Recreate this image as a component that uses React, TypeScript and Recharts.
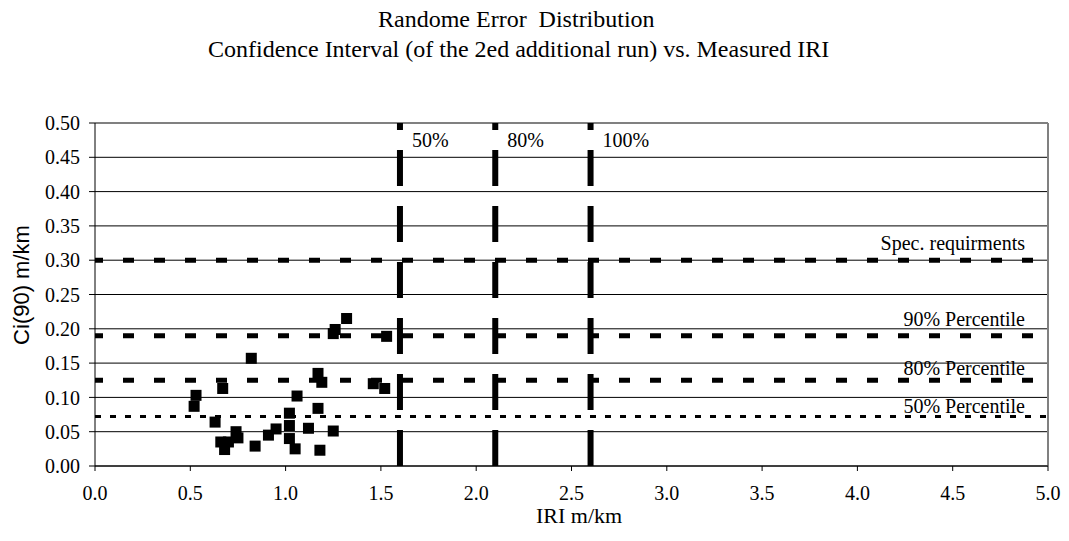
import React from "react";
import {
  ScatterChart,
  Scatter,
  XAxis,
  YAxis,
  CartesianGrid,
  ReferenceLine,
} from "recharts";

// measured IRI (m/km) and Ci(90) (m/km) per section
const iriValues = [
  0.53, 0.52, 0.67, 0.82, 0.63, 0.74, 0.75, 0.66, 0.68, 0.7,
  0.84, 0.91, 0.95, 1.02, 1.02, 1.02, 1.05, 1.06, 1.12, 1.17,
  1.17, 1.19, 1.18, 1.25, 1.25, 1.26, 1.32, 1.46, 1.52, 1.53,
];
const ciValues = [
  0.103, 0.087, 0.113, 0.157, 0.064, 0.05, 0.041, 0.035, 0.024, 0.035,
  0.029, 0.045, 0.054, 0.077, 0.059, 0.04, 0.025, 0.102, 0.055, 0.084,
  0.135, 0.122, 0.023, 0.051, 0.193, 0.199, 0.215, 0.12, 0.113, 0.189,
];

const xTicks = [0, 0.5, 1, 1.5, 2, 2.5, 3, 3.5, 4, 4.5, 5];
const yTicks = [0, 0.05, 0.1, 0.15, 0.2, 0.25, 0.3, 0.35, 0.4, 0.45, 0.5];

// horizontal limits: value, label, how far the label sits above the line
const limitValues = [0.3, 0.19, 0.125, 0.072];
const limitNames = ["Spec. requirments", "90% Percentile", "80% Percentile", "50% Percentile"];
const limitLift = [10, 10, 5, 4];

// vertical coverage markers
const coverageValues = [1.6, 2.1, 2.6];
const coverageNames = ["50%", "80%", "100%"];

const points = iriValues.map((iri, i) => ({ iri, ci: ciValues[i] }));

const SERIF = "'Liberation Serif', 'Times New Roman', serif";
const SANS = "'Liberation Sans', Arial, sans-serif";

// eslint-disable-next-line @typescript-eslint/no-explicit-any
function Square(props: any) {
  const { cx, cy } = props;
  if (cx == null || cy == null) return null;
  return <rect x={cx - 5.5} y={cy - 5.5} width={11} height={11} fill="#000" />;
}

function limitLabel(text: string, lift: number) {
  // eslint-disable-next-line @typescript-eslint/no-explicit-any
  return (props: any) => {
    const vb = props.viewBox || {};
    return (
      <text
        x={vb.x + vb.width - 23}
        y={vb.y - lift}
        textAnchor="end"
        fontFamily={SERIF}
        fontSize={20}
        fill="#000"
      >
        {text}
      </text>
    );
  };
}

function coverageLabel(text: string) {
  // eslint-disable-next-line @typescript-eslint/no-explicit-any
  return (props: any) => {
    const vb = props.viewBox || {};
    return (
      <text x={vb.x + 12} y={vb.y + 24} fontFamily={SERIF} fontSize={20} fill="#000">
        {text}
      </text>
    );
  };
}

export default function App() {
  return (
    <div style={{ position: "absolute", left: 0, top: 0, width: 1069, height: 541, background: "#fff" }}>
      <ScatterChart
        width={1069}
        height={541}
        margin={{ top: 123, right: 21, bottom: 0, left: 0 }}
      >
        <CartesianGrid vertical={false} stroke="#000" strokeWidth={1} />
        <XAxis
          type="number"
          dataKey="iri"
          domain={[0, 5]}
          ticks={xTicks}
          tickFormatter={(v: number) => v.toFixed(1)}
          height={75}
          tickSize={5}
          tickMargin={15}
          axisLine={{ stroke: "#000" }}
          tickLine={{ stroke: "#000" }}
          tick={{ fill: "#000", fontSize: 20, fontFamily: SERIF }}
          interval={0}
        />
        <YAxis
          type="number"
          dataKey="ci"
          domain={[0, 0.5]}
          ticks={yTicks}
          tickFormatter={(v: number) => v.toFixed(2)}
          width={95}
          tickSize={6}
          tickMargin={9}
          axisLine={{ stroke: "#000" }}
          tickLine={{ stroke: "#000" }}
          tick={{ fill: "#000", fontSize: 20, fontFamily: SERIF }}
          interval={0}
        />
        <ReferenceLine y={0.5} stroke="#808080" strokeWidth={2} />
        <ReferenceLine x={5} stroke="#808080" strokeWidth={2} />
        {limitValues.map((v, i) => (
          <ReferenceLine
            key={limitNames[i]}
            y={v}
            stroke="#000"
            strokeWidth={i === 3 ? 3 : 5}
            strokeDasharray={i === 3 ? "6 9" : "11 20"}
            strokeDashoffset={i === 3 ? 0 : 3}
            label={limitLabel(limitNames[i], limitLift[i])}
          />
        ))}
        {coverageValues.map((v, i) => (
          <ReferenceLine
            key={coverageNames[i]}
            x={v}
            stroke="#000"
            strokeWidth={6}
            strokeDasharray="36 20"
            label={coverageLabel(coverageNames[i])}
          />
        ))}
        <Scatter data={points} fill="#000" shape={Square} isAnimationActive={false} />
      </ScatterChart>
      <svg
        width={1069}
        height={541}
        style={{ position: "absolute", left: 0, top: 0, pointerEvents: "none" }}
      >
        <text x={378} y={27} fontFamily={SERIF} fontSize={24} fill="#000" xmlSpace="preserve">
          Randome Error  Distribution
        </text>
        <text x={208} y={57} fontFamily={SERIF} fontSize={24} fill="#000" xmlSpace="preserve">
          Confidence Interval (of the 2ed additional run) vs. Measured IRI
        </text>
        <text x={536} y={523} fontFamily={SERIF} fontSize={22} fill="#000">
          IRI m/km
        </text>
        <text
          x={21}
          y={285}
          fontFamily={SANS}
          fontSize={22}
          fill="#000"
          textAnchor="middle"
          dominantBaseline="central"
          transform="rotate(-90 21 285)"
        >
          Ci(90) m/km
        </text>
      </svg>
    </div>
  );
}
